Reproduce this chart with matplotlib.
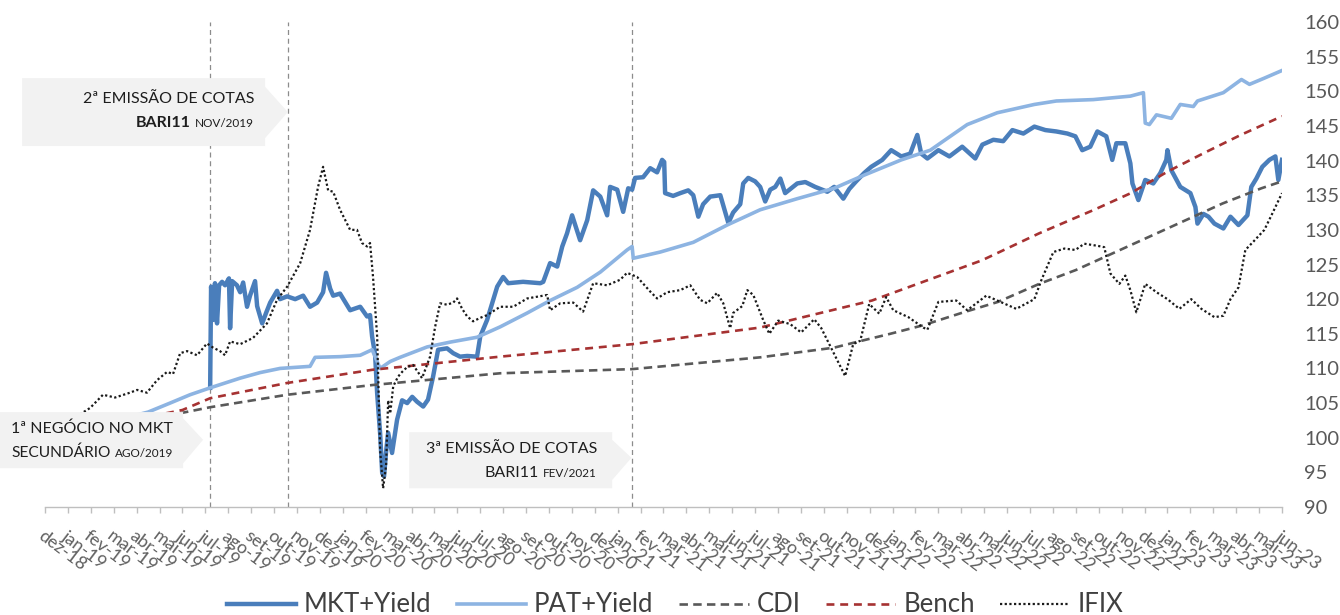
import matplotlib
matplotlib.use('Agg')
import matplotlib.pyplot as plt
from matplotlib.patches import Polygon
from matplotlib.lines import Line2D
from matplotlib.offsetbox import TextArea, HPacker, AnnotationBbox

plt.rcParams['font.family'] = ['Lato', 'DejaVu Sans']

# ---------------- data (x = months since dez-18) ----------------
month_labels = ['dez-18',
    'jan-19', 'fev-19', 'mar-19', 'abr-19', 'mai-19', 'jun-19', 'jul-19', 'ago-19', 'set-19', 'out-19', 'nov-19', 'dez-19',
    'jan-20', 'fev-20', 'mar-20', 'abr-20', 'mai-20', 'jun-20', 'jul-20', 'ago-20', 'set-20', 'out-20', 'nov-20', 'dez-20',
    'jan-21', 'fev-21', 'mar-21', 'abr-21', 'mai-21', 'jun-21', 'jul-21', 'ago-21', 'set-21', 'out-21', 'nov-21', 'dez-21',
    'jan-22', 'fev-22', 'mar-22', 'abr-22', 'mai-22', 'jun-22', 'jul-22', 'ago-22', 'set-22', 'out-22', 'nov-22', 'dez-22',
    'jan-23', 'fev-23', 'mar-23', 'abr-23', 'mai-23', 'jun-23']

mkt_m = [7.21, 7.25, 7.34, 7.42, 7.51, 7.60, 7.73, 7.86, 8.03, 8.08,
         8.17, 8.38, 8.52, 8.65, 8.82, 8.95, 9.17, 9.26, 9.48, 9.65,
         9.83, 10.13, 10.26, 10.57, 10.92, 11.27, 11.57, 11.88, 12.14, 12.27,
         12.45, 12.58, 12.88, 13.32, 13.76, 14.06, 14.19, 14.28, 14.41, 14.50,
         14.63, 14.72, 14.80, 14.89, 14.98, 15.15, 15.37, 15.59, 15.81, 16.03,
         16.24, 16.51, 16.72, 16.94, 17.16, 17.55, 17.82, 18.12, 18.43, 18.86,
         19.00, 19.30, 19.74, 20.00, 20.22, 20.87, 21.62, 21.75, 22.05, 22.36,
         22.58, 22.79, 23.01, 23.36, 23.67, 23.93, 24.24, 24.54, 24.67, 24.98,
         25.24, 25.46, 25.63, 25.76, 26.11, 26.42, 26.72, 26.94, 27.03, 27.07,
         27.42, 27.73, 28.08, 28.30, 28.52, 28.73, 29.04, 29.48, 29.83, 30.04,
         30.35, 30.48, 30.70, 31.00, 31.22, 31.44, 31.66, 31.88, 32.10, 32.31,
         32.84, 33.19, 33.62, 34.15, 34.45, 34.85, 35.11, 35.41, 35.76, 36.07,
         36.55, 36.94, 37.38, 37.77, 38.08, 38.25, 38.52, 39.00, 39.48, 40.04,
         40.61, 40.92, 41.40, 41.83, 42.23, 42.71, 43.19, 43.67, 44.15, 44.63,
         44.98, 45.28, 45.63, 45.94, 46.33, 46.59, 46.77, 47.16, 47.38, 47.47,
         47.73, 48.03, 48.38, 48.69, 48.95, 49.00, 49.17, 49.56, 50.00, 50.22,
         50.31, 50.57, 50.79, 51.05, 51.44, 51.75, 52.10, 52.49, 52.66, 52.88,
         53.14, 53.45, 53.71, 53.84, 54.00]
mkt_v = [107.2, 121.8, 117.0, 122.3, 116.5, 122.0, 122.5, 122.0, 123.0, 115.8,
         122.6, 122.0, 121.0, 122.4, 118.9, 120.5, 122.6, 119.0, 116.5, 118.0,
         119.5, 121.2, 120.0, 120.4, 120.0, 120.5, 118.9, 119.5, 121.0, 123.8,
         121.5, 120.5, 120.8, 118.4, 118.9, 117.5, 117.7, 114.6, 112.0, 106.4,
         100.6, 94.9, 94.4, 98.0, 100.7, 97.8, 102.6, 105.4, 105.0, 105.9,
         105.2, 104.5, 105.5, 108.8, 112.7, 112.9, 112.2, 111.7, 111.8, 111.7,
         114.6, 117.0, 121.8, 123.2, 122.3, 122.5, 122.3, 122.5, 125.2, 124.7,
         127.6, 129.5, 132.1, 128.5, 131.4, 135.7, 134.8, 132.1, 136.2, 135.8,
         132.6, 136.0, 135.8, 137.5, 137.6, 138.9, 138.3, 140.1, 139.8, 135.3,
         134.9, 135.3, 135.7, 135.0, 131.9, 133.7, 134.8, 135.0, 131.0, 132.5,
         133.7, 136.7, 137.5, 137.0, 136.2, 134.1, 135.8, 136.2, 137.4, 135.3,
         136.7, 136.9, 136.2, 135.5, 136.2, 134.5, 135.9, 137.0, 138.2, 139.1,
         140.1, 141.5, 140.6, 141.0, 143.7, 141.0, 140.3, 141.5, 140.6, 142.0,
         140.3, 142.3, 143.0, 142.8, 144.4, 143.9, 144.9, 144.4, 144.2, 143.9,
         143.5, 141.5, 142.0, 144.2, 143.5, 140.1, 142.5, 142.5, 139.6, 136.7,
         134.3, 137.2, 136.7, 138.2, 140.1, 141.5, 138.6, 136.2, 135.3, 133.3,
         130.9, 132.3, 131.9, 130.9, 130.2, 131.9, 130.7, 132.1, 136.2, 137.4,
         139.1, 140.1, 140.6, 137.2, 140.1]

pat_m = [0, 2.5, 4.50, 5.46, 6.33, 7.21, 8.52, 9.39, 10.26, 11.57,
         11.79, 12.88, 13.76, 14.28, 14.50, 14.63, 15.07, 15.50, 16.68, 17.69,
         18.86, 19.87, 21.05, 22.05, 23.23, 24.24, 25.41, 25.63, 25.68, 26.86,
         28.30, 29.78, 31.22, 32.84, 34.45, 35.76, 37.38, 38.65, 39.30, 40.26,
         41.57, 43.19, 44.15, 45.76, 47.38, 47.95, 48.03, 48.21, 48.52, 49.17,
         49.56, 50.13, 50.31, 51.44, 52.23, 52.58, 53.23, 54.0]
pat_v = [100.0, 102.0, 103.7, 105.0, 106.2, 107.2, 108.6, 109.4, 110.0, 110.3,
         111.6, 111.7, 111.9, 112.7, 111.0, 110.0, 111.0, 111.6, 113.1, 113.8,
         114.5, 116.0, 118.0, 119.8, 121.7, 123.9, 127.1, 127.6, 125.9, 126.8,
         128.2, 130.7, 132.9, 134.5, 136.0, 137.9, 140.1, 141.5, 143.0, 145.2,
         146.9, 148.1, 148.6, 148.8, 149.3, 149.8, 145.4, 145.2, 146.6, 146.1,
         148.1, 147.8, 148.6, 149.8, 151.7, 151.0, 151.9, 153.0]

cdi_m = [0, 6.0, 7.21, 10.57, 14.28, 19.87, 25.63, 31.22, 34.45, 35.41, 36.9,
         38.3, 40.1, 41.6, 43.4, 45.0, 46.6, 48.2, 49.8, 51.4, 53.1, 54.0]
cdi_v = [100.0, 103.6, 104.4, 106.2, 107.6, 109.3, 109.9, 111.6, 113.0, 113.8, 115.0,
         116.2, 118.1, 119.6, 122.2, 124.2, 126.6, 129.0, 131.4, 133.8, 136.0, 137.0]

bench_m = [0, 6.0, 7.21, 10.57, 14.28, 19.87, 25.63, 31.22, 36.1, 38.5, 40.9,
           43.4, 45.8, 47.4, 49.0, 50.6, 52.2, 54.0]
bench_v = [100.0, 104.0, 105.7, 107.9, 109.8, 111.7, 113.5, 115.9, 119.8, 122.7, 125.6,
           129.5, 132.9, 135.3, 138.4, 141.1, 143.7, 146.4]

ifix_m = [0, 0.87, 1.97, 2.53, 3.06, 3.71, 4.02, 4.45, 4.89, 5.33,
          5.59, 5.90, 6.20, 6.64, 7.07, 7.34, 7.64, 7.86, 8.08, 8.52,
          9.08, 9.69, 10.13, 10.57, 11.14, 11.57, 11.92, 12.14, 12.36, 12.58,
          12.88, 13.32, 13.62, 13.84, 14.06, 14.19, 14.32, 14.50, 14.63, 14.76,
          14.89, 14.98, 15.07, 15.20, 15.41, 15.59, 15.81, 16.07, 16.46, 16.81,
          17.03, 17.25, 17.55, 17.82, 17.99, 18.21, 18.43, 18.69, 19.00, 19.30,
          19.87, 20.44, 21.05, 21.92, 22.05, 22.49, 23.06, 23.49, 23.93, 24.54,
          25.11, 25.41, 25.85, 26.42, 26.72, 27.16, 27.73, 28.17, 28.60, 28.91,
          29.34, 29.61, 29.91, 30.04, 30.44, 30.66, 30.92, 31.35, 31.62, 32.01,
          32.53, 33.01, 33.58, 33.89, 34.45, 34.93, 35.28, 35.59, 35.98, 36.42,
          36.72, 37.03, 37.69, 38.34, 38.52, 39.00, 39.78, 40.26, 41.09, 41.57,
          42.40, 43.19, 43.49, 44.02, 44.50, 44.98, 45.37, 45.94, 46.24, 46.51,
          46.90, 47.16, 47.38, 47.64, 48.03, 48.52, 49.00, 49.52, 50.04, 50.48,
          51.05, 51.44, 51.75, 52.10, 52.40, 52.75, 53.23, 53.54, 54.0]
ifix_v = [100.0, 102.0, 104.3, 106.2, 105.8, 106.5, 106.9, 106.5, 108.3, 109.5,
          109.2, 112.2, 112.5, 111.9, 113.6, 113.0, 112.5, 111.9, 113.9, 113.5,
          114.4, 116.5, 119.9, 121.8, 125.2, 130.0, 136.2, 139.1, 135.7, 135.5,
          132.9, 130.0, 130.0, 128.1, 127.6, 128.1, 123.2, 114.6, 98.2, 92.7,
          96.0, 105.4, 103.5, 107.4, 108.8, 109.5, 110.2, 110.5, 108.6, 111.7,
          116.0, 119.4, 119.2, 119.5, 120.1, 118.6, 117.5, 116.8, 117.3, 117.7,
          118.9, 118.9, 120.1, 120.6, 118.4, 119.4, 119.5, 118.2, 122.3, 122.0,
          122.8, 123.8, 123.2, 121.1, 120.1, 121.0, 121.3, 122.0, 119.9, 119.4,
          120.9, 119.4, 115.8, 118.0, 119.0, 121.3, 120.6, 117.0, 115.0, 116.9,
          116.4, 115.2, 117.1, 115.8, 112.1, 108.9, 113.5, 114.0, 119.3, 117.9,
          120.3, 118.4, 117.4, 115.9, 115.6, 119.6, 119.8, 118.4, 120.5, 119.8,
          118.6, 120.0, 122.7, 126.8, 127.3, 127.1, 128.0, 127.7, 127.5, 123.7,
          122.2, 123.4, 121.3, 118.1, 122.2, 121.0, 120.0, 118.6, 120.0, 118.6,
          117.4, 117.6, 120.0, 121.7, 127.1, 128.3, 130.0, 132.1, 135.3]

event_m = [7.21, 10.6, 25.63]
y_ticks = list(range(90, 161, 5))

# ---------------- figure ----------------
fig = plt.figure(figsize=(13.4, 6.15), dpi=100)
ax = fig.add_axes([45 / 1340, 1 - 507 / 615, 1237 / 1340, 485 / 615])
ax.set_xlim(0, 54)
ax.set_ylim(90, 160)

C_MKT = '#4a7ebb'
C_PAT = '#8db4e2'
C_CDI = '#595959'
C_BEN = '#a63232'
C_IFX = '#1a1a1a'

for xm in event_m:
    ax.axvline(xm, color='#8c8c8c', lw=0.9, ls=(0, (4, 3)), zorder=1)

ax.plot(mkt_m, mkt_v, color=C_MKT, lw=3.2, zorder=3, solid_joinstyle='round')
ax.plot(pat_m, pat_v, color=C_PAT, lw=2.6, zorder=4, solid_joinstyle='round')
ax.plot(cdi_m, cdi_v, color=C_CDI, lw=1.9, ls=(0, (3.2, 2.0)), zorder=5)
ax.plot(bench_m, bench_v, color=C_BEN, lw=1.9, ls=(0, (3.0, 2.2)), zorder=5)
ax.plot(ifix_m, ifix_v, color=C_IFX, lw=1.6, ls=(0, (1, 1.1)), zorder=6)

# axes styling
for s in ['top', 'left', 'right']:
    ax.spines[s].set_visible(False)
ax.spines['bottom'].set_color('#bfbfbf')
ax.spines['bottom'].set_linewidth(1.0)

ax.yaxis.tick_right()
ax.set_yticks(y_ticks)
ax.tick_params(axis='y', length=0, pad=16, labelsize=14.5, labelcolor='#595959')

ax.set_xticks(range(len(month_labels)))
ax.set_xticklabels(month_labels)
ax.tick_params(axis='x', direction='out', length=4, width=1, color='#bfbfbf',
               pad=11, labelsize=13, labelcolor='#606060')
for lab in ax.get_xticklabels():
    lab.set_rotation(-37)
    lab.set_rotation_mode('anchor')
    lab.set_ha('left')
    lab.set_va('top')

# ---------------- annotation boxes ----------------
def chevron(L, R, tip, T, B, cT, cB, mid):
    pts = [(L, T), (R, T), (R, cT), (tip, mid), (R, cB), (R, B), (L, B)]
    ax.add_patch(Polygon(pts, closed=True, facecolor='#f2f2f2', edgecolor='none',
                         zorder=10, clip_on=False))

def line_text(x, y, parts):
    areas = [TextArea(t, textprops=dict(fontsize=fs, fontweight=fw, color='#1e1e1e'))
             for t, fs, fw in parts]
    pack = HPacker(children=areas, align='baseline', pad=0, sep=3)
    ab = AnnotationBbox(pack, (x, y), xycoords='data', box_alignment=(1, 0.5),
                        frameon=False, pad=0, zorder=11, annotation_clip=False)
    ax.add_artist(ab)

# 2a emissao (nov/2019)
chevron(-1.0, 9.61, 10.6, 151.9, 142.1, 150.65, 143.25, 147.0)
line_text(9.13, 148.85, [('2ª EMISSÃO DE COTAS', 11.5, 'normal')])
line_text(9.13, 145.4, [('BARI11', 11.5, 'bold'), ('NOV/2019', 8.5, 'normal')])

# 1o negocio (ago/2019)
chevron(-1.97, 6.03, 6.9, 103.7, 95.6, 102.8, 96.3, 99.7)
line_text(5.59, 101.25, [('1ª NEGÓCIO NO MKT', 11.5, 'normal')])
line_text(5.59, 97.9, [('SECUNDÁRIO', 11.2, 'normal'), ('AGO/2019', 8.5, 'normal')])

# 3a emissao (fev/2021)
chevron(15.9, 24.76, 25.6, 100.8, 92.7, 99.7, 93.9, 97.1)
line_text(24.1, 98.4, [('3ª EMISSÃO DE COTAS', 11.5, 'normal')])
line_text(24.1, 94.95, [('BARI11', 11.5, 'normal'), ('FEV/2021', 8.5, 'normal')])

# ---------------- legend ----------------
handles = [
    Line2D([], [], color=C_MKT, lw=3.2),
    Line2D([], [], color=C_PAT, lw=2.6),
    Line2D([], [], color=C_CDI, lw=1.9, ls=(0, (3.2, 2.0))),
    Line2D([], [], color=C_BEN, lw=1.9, ls=(0, (3.0, 2.2))),
    Line2D([], [], color=C_IFX, lw=1.6, ls=(0, (1, 1.1))),
]
names = ['MKT+Yield', 'PAT+Yield', 'CDI', 'Bench', 'IFIX']
leg = fig.legend(handles, names, loc='center', bbox_to_anchor=(675 / 1340, 1 - 605 / 615),
                 ncol=5, frameon=False, fontsize=18.5, handlelength=2.7,
                 handletextpad=0.3, columnspacing=1.0, borderpad=0, borderaxespad=0)
for t in leg.get_texts():
    t.set_color('#404040')

fig.savefig('out.png', dpi=100)
